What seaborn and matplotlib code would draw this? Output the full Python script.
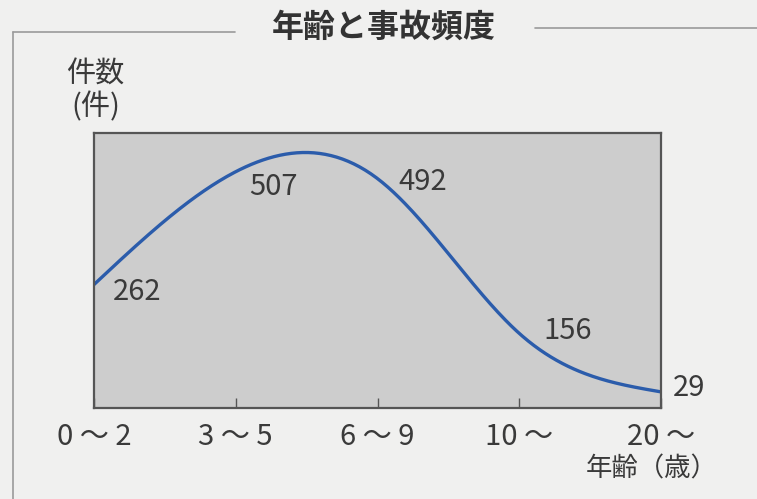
import matplotlib
matplotlib.use("Agg")
import matplotlib.pyplot as plt
import numpy as np
import pandas as pd
import seaborn as sns

sns.set_theme(style="white")
plt.rcParams['font.family'] = ['Noto Sans CJK JP', 'DejaVu Sans']

# data
age_groups = ["0 〜 2", "3 〜 5", "6 〜 9", "10 〜", "20 〜"]
accidents = [262, 507, 492, 156, 29]
# label offsets in pixels (dx, dy)
label_offsets = [(43, -7), (38, -15), (45, -3), (48, 2), (28, 4)]


def natural_spline(x, y, n=300):
    # smooth curve through the points for drawing
    x = np.asarray(x, float)
    y = np.asarray(y, float)
    k = len(x)
    h = np.diff(x)
    A = np.zeros((k, k))
    b = np.zeros(k)
    A[0, 0] = A[-1, -1] = 1
    for i in range(1, k - 1):
        A[i, i - 1] = h[i - 1]
        A[i, i] = 2 * (h[i - 1] + h[i])
        A[i, i + 1] = h[i]
        b[i] = 3 * ((y[i + 1] - y[i]) / h[i] - (y[i] - y[i - 1]) / h[i - 1])
    c = np.linalg.solve(A, b)
    xs = np.linspace(x[0], x[-1], n)
    ys = np.empty_like(xs)
    for j, xv in enumerate(xs):
        i = min(np.searchsorted(x, xv, side="right") - 1, k - 2)
        d = (c[i + 1] - c[i]) / (3 * h[i])
        bb = (y[i + 1] - y[i]) / h[i] - h[i] * (2 * c[i] + c[i + 1]) / 3
        t = xv - x[i]
        ys[j] = y[i] + bb * t + c[i] * t ** 2 + d * t ** 3
    return xs, ys


bg = "#f0f0ef"
txt = "#3a3a3a"
fig = plt.figure(figsize=(7.57, 4.99), dpi=100, facecolor=bg)
ax = fig.add_axes([94 / 757, 1 - 408 / 499, 567 / 757, 275 / 499])
ax.set_facecolor("#cdcdcd")

xpos = np.arange(len(age_groups))
xs, ys = natural_spline(xpos, accidents)
curve = pd.DataFrame({"x": xs, "y": ys})
sns.lineplot(data=curve, x="x", y="y", ax=ax, color="#2b5cab", linewidth=2.4)

for i, (v, (dx, dy)) in enumerate(zip(accidents, label_offsets)):
    ax.annotate(str(v), xy=(i, v), xytext=(dx, dy), textcoords="offset pixels",
                ha="center", va="center", fontsize=21, color=txt,
                annotation_clip=False)

ax.set_xlim(0, len(age_groups) - 1)
ax.set_ylim(-6, 591)
ax.set_xticks(xpos)
ax.set_xticklabels(age_groups, fontsize=21, color=txt)
ax.set_yticks([])
ax.tick_params(axis="x", direction="in", length=7, width=1, color="#555555", pad=10,
               bottom=True)
ax.set_xlabel("")
ax.set_ylabel("")
for s in ax.spines.values():
    s.set_color("#555555")
    s.set_linewidth(1.6)

# title and frame
fig.text(384 / 757, 1 - 28 / 499, "年齢と事故頻度", ha="center", va="center",
         fontsize=23, color="#333333", fontweight="bold")
frame = dict(color="#9a9a9a", linewidth=1.2, transform=fig.transFigure)
fig.add_artist(plt.Line2D([13 / 757, 13 / 757], [0, 1 - 32 / 499], **frame))
fig.add_artist(plt.Line2D([13 / 757, 235 / 757], [1 - 32 / 499, 1 - 32 / 499], **frame))
fig.add_artist(plt.Line2D([535 / 757, 1], [1 - 28 / 499, 1 - 28 / 499], **frame))

fig.text(66 / 757, 1 - 75 / 499, "件数", ha="left", va="center", fontsize=21,
         color=txt)
fig.text(96 / 757, 1 - 107 / 499, "(件)", ha="center", va="center", fontsize=21,
         color=txt)
fig.text(652 / 757, 1 - 469 / 499, "年齢（歳）", ha="center", va="center",
         fontsize=19, color=txt)

fig.savefig("out.png", dpi=100, facecolor=bg)
